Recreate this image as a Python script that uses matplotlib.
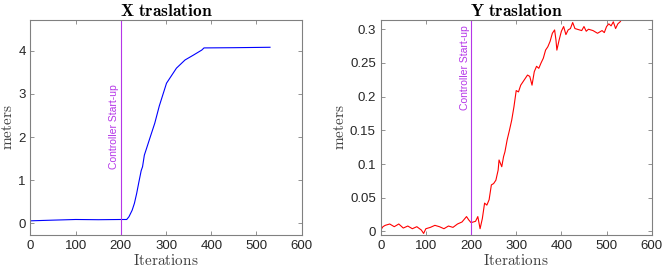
import numpy as np
import matplotlib
matplotlib.use("Agg")
import matplotlib.pyplot as plt

plt.rcParams['font.family'] = ['Liberation Sans', 'DejaVu Sans']
plt.rcParams['mathtext.fontset'] = 'cm'

# ================= DATA =================
# X translation
x_iter = [0, 50, 100, 150, 200, 213, 218, 225, 230, 235, 240, 245, 248, 252,
          257, 265, 275, 285, 301, 323, 342, 360, 379, 384, 450, 530]
x_pos = [0.054, 0.07, 0.085, 0.08, 0.085, 0.085, 0.15, 0.30, 0.46, 0.69, 0.96,
         1.22, 1.31, 1.58, 1.74, 2.0, 2.32, 2.72, 3.25, 3.6, 3.79, 3.9, 4.02,
         4.07, 4.075, 4.085]

# Y translation
y_iter = [0, 5, 10, 20, 30, 40, 50, 60, 70, 80, 90, 95, 100, 110, 120, 130,
          140, 150, 160, 170, 180, 190, 195, 200, 210, 215, 220, 225, 230, 235,
          240, 245, 250, 255, 260, 262, 268, 272, 275, 280, 285, 290, 295, 300,
          305, 310, 315, 320, 325, 330, 335, 340, 345, 350, 355, 360, 365, 370,
          375, 380, 385, 388, 390, 395, 400, 405, 410, 415, 420, 425, 430, 440,
          445, 450, 455, 460, 470, 480, 490, 495, 500, 505, 510, 515, 520, 525,
          530, 532]
y_pos = [0.002, 0.007, 0.009, 0.011, 0.007, 0.011, 0.005, 0.008, 0.004, 0.007,
         0.002, -0.003, 0.004, 0.006, 0.009, 0.007, 0.004, 0.008, 0.006, 0.011,
         0.014, 0.022, 0.017, 0.013, 0.015, 0.022, 0.004, 0.019, 0.042, 0.039,
         0.047, 0.069, 0.071, 0.076, 0.091, 0.106, 0.096, 0.111, 0.118, 0.136,
         0.150, 0.165, 0.185, 0.209, 0.207, 0.217, 0.222, 0.227, 0.232, 0.230,
         0.217, 0.237, 0.245, 0.242, 0.250, 0.257, 0.269, 0.274, 0.282, 0.294,
         0.299, 0.284, 0.269, 0.284, 0.297, 0.304, 0.292, 0.299, 0.301, 0.310,
         0.301, 0.299, 0.298, 0.304, 0.297, 0.300, 0.298, 0.294, 0.298, 0.295,
         0.304, 0.308, 0.305, 0.311, 0.301, 0.308, 0.311, 0.313]

startup = 200
mark_color = '#B536E8'


def style_axes(ax):
    for s in ax.spines.values():
        s.set_color('#808080')
        s.set_linewidth(0.8)
    ax.tick_params(direction='in', length=3, width=0.6, color='#808080',
                   labelsize=9.5, labelcolor='#262626', top=True, right=True)
    ax.set_xlim(0, 600)
    ax.set_xticks([0, 100, 200, 300, 400, 500, 600])
    ax.set_xlabel(r'$\mathrm{Iterations}$', fontsize=11, color='#404040', labelpad=1)
    ax.set_ylabel(r'$\mathrm{meters}$', fontsize=11, color='#404040', labelpad=2)


fig = plt.figure(figsize=(6.63, 2.73), dpi=100)

# ---- X translation ----
ax1 = fig.add_axes([0.0459, 0.140, 0.4091, 0.787])
ax1.plot(x_iter, x_pos, color='#0000FF', linewidth=0.8)
ax1.axvline(startup, color=mark_color, linewidth=0.8)
ax1.text(startup - 3, 2.24, 'Controller Start-up', rotation=90, color=mark_color,
         fontsize=7.5, ha='right', va='center')
ax1.set_ylim(-0.27, 4.72)
ax1.set_yticks([0, 1, 2, 3, 4])
ax1.set_title(r'$\mathbf{X\ traslation}$', fontsize=12.5, pad=3)
style_axes(ax1)

# ---- Y translation ----
ax2 = fig.add_axes([0.5742, 0.140, 0.4088, 0.787])
ax2.plot(y_iter, y_pos, color='#FF0000', linewidth=0.8)
ax2.axvline(startup, color=mark_color, linewidth=0.8)
ax2.text(startup - 3, 0.2425, 'Controller Start-up', rotation=90, color=mark_color,
         fontsize=7.5, ha='right', va='center')
ax2.set_ylim(-0.005, 0.3138)
ax2.set_yticks([0, 0.05, 0.1, 0.15, 0.2, 0.25, 0.3])
ax2.set_yticklabels(['0', '0.05', '0.1', '0.15', '0.2', '0.25', '0.3'])
ax2.set_title(r'$\mathbf{Y\ traslation}$', fontsize=12.5, pad=3)
style_axes(ax2)

fig.savefig('out.png', dpi=100)
